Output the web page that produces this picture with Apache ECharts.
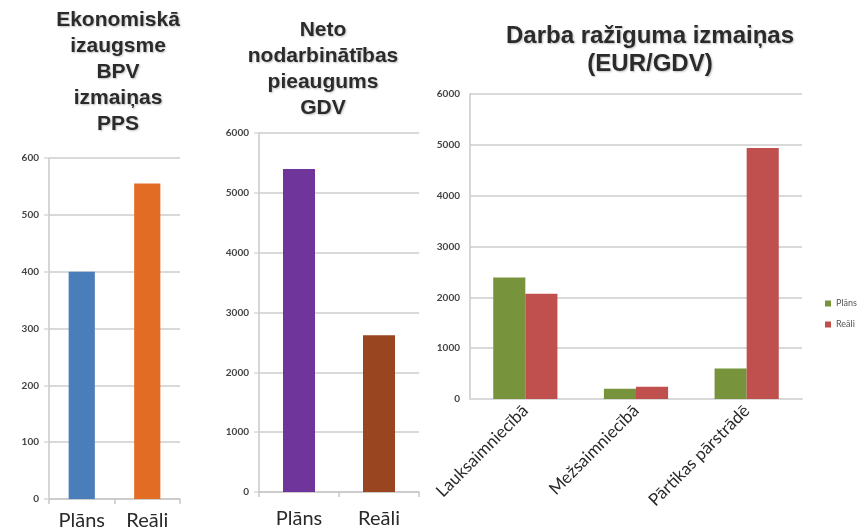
<!DOCTYPE html>
<html>
<head>
<meta charset="utf-8">
<script src="https://cdn.jsdelivr.net/npm/echarts@6/dist/echarts.min.js"></script>
<style>
html,body{margin:0;padding:0;background:#fff;}
#c{width:865px;height:531px;}
</style>
</head>
<body>
<div id="c"></div>
<script>
// ---- data ----
const titles = [
  'Ekonomiskā\nizaugsme\nBPV\nizmaiņas\nPPS',
  'Neto\nnodarbinātības\npieaugums\nGDV',
  'Darba ražīguma izmaiņas\n(EUR/GDV)'
];
const categories1 = ['Plāns', 'Reāli'];
const values1 = [400, 555];
const categories2 = ['Plāns', 'Reāli'];
const values2 = [5400, 2620];
const categories3 = ['Lauksaimniecībā', 'Mežsaimniecībā', 'Pārtikas pārstrādē'];
const seriesNames3 = ['Plāns', 'Reāli'];
const plan3 = [2390, 200, 600];
const real3 = [2070, 240, 4940];
const yMax = [600, 6000, 6000];
const yStep = [100, 1000, 1000];

// ---- styles ----
const colors1 = ['#4a7ebb', '#e36c24'];
const colors2 = ['#70359a', '#984520'];
const colors3 = ['#77933c', '#c0504d'];
const gridColor = '#d9d9d9';
const axisColor = '#c8c8c8';
const tickFont = 'Lato, "Open Sans", sans-serif';
const titleFont = '"Liberation Sans", Arial, sans-serif';

const chart = echarts.init(document.getElementById('c'), null, {renderer: 'canvas'});

function titleOpt(text, x, top, size, lh) {
  return {
    text: text, left: x, top: top, textAlign: 'center', padding: 0,
    textStyle: {
      fontFamily: titleFont, fontWeight: 'bold', fontSize: size, lineHeight: lh,
      color: '#2b2b2b', textShadowColor: 'rgba(0,0,0,0.25)', textShadowBlur: 2, textShadowOffsetX: 1, textShadowOffsetY: 1
    }
  };
}

function yAxisOpt(i) {
  return {
    type: 'value', gridIndex: i, min: 0, max: yMax[i], interval: yStep[i],
    axisLine: {show: true, lineStyle: {color: axisColor, width: 1.5}},
    axisTick: {show: true, length: 5, lineStyle: {color: gridColor, width: 1.5}},
    splitLine: {show: true, lineStyle: {color: gridColor, width: 2}},
    axisLabel: {margin: 10, fontFamily: tickFont, fontSize: 10, color: '#444', fontWeight: 'bold',
      formatter: v => String(v)}
  };
}

function xAxisSimple(i, cats, margin) {
  return {
    type: 'category', gridIndex: i, data: cats,
    axisLine: {show: true, lineStyle: {color: axisColor, width: 1.5}},
    axisTick: {show: true, length: 5, lineStyle: {color: axisColor, width: 1.5}},
    axisLabel: {margin: margin, fontFamily: tickFont, fontSize: 20, color: '#2a2a2a'}
  };
}

const option = {
  backgroundColor: '#ffffff',
  animation: false,
  title: [
    titleOpt(titles[0], 118, 7, 21, 26),
    titleOpt(titles[1], 323, 17, 21, 26),
    titleOpt(titles[2], 650, 22, 24, 28)
  ],
  legend: {
    data: seriesNames3, orient: 'vertical', left: 820, top: 294,
    icon: 'rect', itemWidth: 6, itemHeight: 6, itemGap: 12,
    textStyle: {fontFamily: tickFont, fontSize: 9, color: '#555', padding: [0, 0, 0, 0]}
  },
  grid: [
    {left: 49, top: 158, width: 131, height: 341},
    {left: 259, top: 133, width: 160, height: 359},
    {left: 470, top: 94, width: 332, height: 305}
  ],
  xAxis: [
    xAxisSimple(0, categories1, 12),
    xAxisSimple(1, categories2, 17),
    {
      type: 'category', gridIndex: 2, data: categories3,
      axisLine: {show: true, lineStyle: {color: gridColor, width: 2}},
      axisTick: {show: false},
      axisLabel: {rotate: 45, margin: 9, fontFamily: tickFont, fontSize: 17, color: '#2a2a2a', interval: 0}
    }
  ],
  yAxis: [yAxisOpt(0), yAxisOpt(1), Object.assign(yAxisOpt(2), {axisTick: {show: false}})],
  series: [
    {
      type: 'bar', xAxisIndex: 0, yAxisIndex: 0, barCategoryGap: '60%',
      data: values1.map((v, k) => ({value: v, itemStyle: {color: colors1[k]}}))
    },
    {
      type: 'bar', xAxisIndex: 1, yAxisIndex: 1, barCategoryGap: '60%',
      data: values2.map((v, k) => ({value: v, itemStyle: {color: colors2[k]}}))
    },
    {
      name: seriesNames3[0], type: 'bar', xAxisIndex: 2, yAxisIndex: 2,
      barGap: '0%', barCategoryGap: '42%', itemStyle: {color: colors3[0]}, data: plan3
    },
    {
      name: seriesNames3[1], type: 'bar', xAxisIndex: 2, yAxisIndex: 2,
      barGap: '0%', barCategoryGap: '42%', itemStyle: {color: colors3[1]}, data: real3
    }
  ]
};
chart.setOption(option);
</script>
</body>
</html>
